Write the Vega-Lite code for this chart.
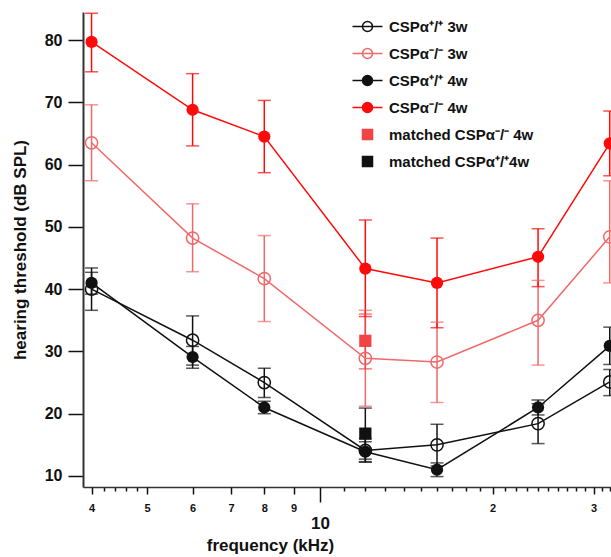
{
  "$schema": "https://vega.github.io/schema/vega-lite/v6.json",
  "width": 528,
  "height": 475,
  "autosize": {"type": "none"},
  "padding": {"left": 83, "top": 12, "right": 0, "bottom": 70},
  "background": "white",
  "config": {
    "view": {"stroke": null},
    "font": "Liberation Sans",
    "axis": {"grid": false, "labelFont": "Liberation Sans", "titleFont": "Liberation Sans", "labelFontWeight": "bold", "titleFontWeight": "bold", "labelColor": "#111", "titleColor": "#111", "tickColor": "#111", "domainColor": "#333"}
  },
  "data": {"values": [
    {"series": "CSPα⁺/⁺ 3w", "freq": 4, "mean": 40.0, "lo": 36.6, "hi": 43.4},
    {"series": "CSPα⁺/⁺ 3w", "freq": 6, "mean": 31.8, "lo": 27.8, "hi": 35.7},
    {"series": "CSPα⁺/⁺ 3w", "freq": 8, "mean": 25.0, "lo": 22.6, "hi": 27.3},
    {"series": "CSPα⁺/⁺ 3w", "freq": 12, "mean": 14.1, "lo": 12.3, "hi": 16.0},
    {"series": "CSPα⁺/⁺ 3w", "freq": 16, "mean": 15.0, "lo": 11.6, "hi": 18.3},
    {"series": "CSPα⁺/⁺ 3w", "freq": 24, "mean": 18.4, "lo": 15.2, "hi": 21.6},
    {"series": "CSPα⁺/⁺ 3w", "freq": 32, "mean": 25.1, "lo": 22.9, "hi": 27.1},
    {"series": "CSPα⁻/⁻ 3w", "freq": 4, "mean": 63.5, "lo": 57.4, "hi": 69.6},
    {"series": "CSPα⁻/⁻ 3w", "freq": 6, "mean": 48.2, "lo": 42.8, "hi": 53.7},
    {"series": "CSPα⁻/⁻ 3w", "freq": 8, "mean": 41.7, "lo": 34.8, "hi": 48.6},
    {"series": "CSPα⁻/⁻ 3w", "freq": 12, "mean": 28.9, "lo": 21.2, "hi": 36.6},
    {"series": "CSPα⁻/⁻ 3w", "freq": 16, "mean": 28.3, "lo": 21.8, "hi": 34.7},
    {"series": "CSPα⁻/⁻ 3w", "freq": 24, "mean": 35.0, "lo": 27.8, "hi": 41.4},
    {"series": "CSPα⁻/⁻ 3w", "freq": 32, "mean": 48.4, "lo": 41.0, "hi": 57.4},
    {"series": "CSPα⁺/⁺ 4w", "freq": 4, "mean": 41.0, "lo": 39.2, "hi": 42.7},
    {"series": "CSPα⁺/⁺ 4w", "freq": 6, "mean": 29.1, "lo": 27.3, "hi": 30.8},
    {"series": "CSPα⁺/⁺ 4w", "freq": 8, "mean": 21.0, "lo": 20.0, "hi": 22.0},
    {"series": "CSPα⁺/⁺ 4w", "freq": 12, "mean": 13.9, "lo": 12.2, "hi": 15.5},
    {"series": "CSPα⁺/⁺ 4w", "freq": 16, "mean": 11.0, "lo": 9.9, "hi": 12.1},
    {"series": "CSPα⁺/⁺ 4w", "freq": 24, "mean": 21.0, "lo": 19.8, "hi": 22.2},
    {"series": "CSPα⁺/⁺ 4w", "freq": 32, "mean": 30.9, "lo": 27.9, "hi": 33.9},
    {"series": "CSPα⁻/⁻ 4w", "freq": 4, "mean": 79.7, "lo": 74.9, "hi": 84.3},
    {"series": "CSPα⁻/⁻ 4w", "freq": 6, "mean": 68.8, "lo": 63.0, "hi": 74.6},
    {"series": "CSPα⁻/⁻ 4w", "freq": 8, "mean": 64.5, "lo": 58.7, "hi": 70.3},
    {"series": "CSPα⁻/⁻ 4w", "freq": 12, "mean": 43.3, "lo": 35.6, "hi": 51.1},
    {"series": "CSPα⁻/⁻ 4w", "freq": 16, "mean": 41.0, "lo": 33.8, "hi": 48.2},
    {"series": "CSPα⁻/⁻ 4w", "freq": 24, "mean": 45.2, "lo": 40.4, "hi": 49.7},
    {"series": "CSPα⁻/⁻ 4w", "freq": 32, "mean": 63.4, "lo": 58.2, "hi": 68.6},
    {"series": "matched CSPα⁻/⁻ 4w", "freq": 12, "mean": 31.7, "lo": 27.2, "hi": 36.0},
    {"series": "matched CSPα⁺/⁺4w", "freq": 12, "mean": 16.8, "lo": 12.7, "hi": 20.9}
  ]},
  "encoding": {
    "color": {
      "field": "series", "type": "nominal",
      "scale": {
        "domain": ["CSPα⁺/⁺ 3w", "CSPα⁻/⁻ 3w", "CSPα⁺/⁺ 4w", "CSPα⁻/⁻ 4w", "matched CSPα⁻/⁻ 4w", "matched CSPα⁺/⁺4w"],
        "range": ["#111111", "#f26868", "#111111", "#ff0a0a", "#f24444", "#111111"]
      },
      "legend": null
    }
  },
  "layer": [
    {
      "mark": {"type": "rule", "strokeWidth": 1.5},
      "encoding": {
        "x": {"field": "freq", "type": "quantitative", "scale": {"type": "log", "domain": [3.865, 32.16], "nice": false},
          "axis": {"orient": "bottom", "values": [4.2, 4.4, 4.6, 4.8, 11, 12, 13, 14, 15, 16, 17, 18, 19, 21, 22, 23, 24, 25, 26, 27, 28, 29, 31, 32], "labels": false, "tickSize": 4, "tickWidth": 1.5, "domain": true, "domainWidth": 1.5, "title": null}},
        "y": {"field": "lo", "type": "quantitative", "scale": {"domain": [8.23, 84.5], "nice": false, "zero": false},
          "axis": {"orient": "left", "values": [10, 20, 30, 40, 50, 60, 70, 80], "tickSize": 15, "tickWidth": 1.5, "domainWidth": 2, "labelFontSize": 16, "labelPadding": 6, "title": "hearing threshold (dB SPL)", "titleFontSize": 17, "titlePadding": 15}},
        "y2": {"field": "hi"}
      }
    },
    {
      "mark": {"type": "tick", "orient": "horizontal", "size": 13, "thickness": 1.5},
      "encoding": {
        "x": {"field": "freq", "type": "quantitative", "scale": {"type": "log", "domain": [3.865, 32.16], "nice": false},
          "axis": {"orient": "bottom", "values": [4, 5, 6, 7, 8, 9, 20, 30], "labelExpr": "datum.value >= 20 ? '' + (datum.value / 10) : '' + datum.value", "labelOverlap": false, "labelFlush": false, "labelBound": false, "labelFontSize": 11, "labelPadding": 8, "tickSize": 7, "tickWidth": 1.5, "domain": false, "title": null}},
        "y": {"field": "lo", "type": "quantitative", "scale": {"domain": [8.23, 84.5], "nice": false, "zero": false}, "axis": null}
      }
    },
    {
      "mark": {"type": "tick", "orient": "horizontal", "size": 13, "thickness": 1.5},
      "encoding": {
        "x": {"field": "freq", "type": "quantitative", "scale": {"type": "log", "domain": [3.865, 32.16], "nice": false},
          "axis": {"orient": "bottom", "values": [10], "labelOverlap": false, "labelFlush": false, "labelBound": false, "labelFontSize": 17, "labelPadding": 13, "tickSize": 15, "tickWidth": 1.5, "domain": false, "title": "frequency (kHz)", "titleFontSize": 17, "titleX": 187, "titleY": 50, "titleBaseline": "top", "titleAlign": "center"}},
        "y": {"field": "hi", "type": "quantitative", "scale": {"domain": [8.23, 84.5], "nice": false, "zero": false}, "axis": null}
      }
    },
    {
      "transform": [{"filter": "indexof(datum.series, 'matched') < 0"}],
      "mark": {"type": "line", "strokeWidth": 1.5},
      "encoding": {
        "x": {"field": "freq", "type": "quantitative", "scale": {"type": "log", "domain": [3.865, 32.16], "nice": false}, "axis": null},
        "y": {"field": "mean", "type": "quantitative", "scale": {"domain": [8.23, 84.5], "nice": false, "zero": false}, "axis": null},
        "color": {
          "field": "series", "type": "nominal",
          "scale": {
            "domain": ["CSPα⁺/⁺ 3w", "CSPα⁻/⁻ 3w", "CSPα⁺/⁺ 4w", "CSPα⁻/⁻ 4w", "matched CSPα⁻/⁻ 4w", "matched CSPα⁺/⁺4w"],
            "range": ["#111111", "#f26868", "#111111", "#ff0a0a", "#f24444", "#111111"]
          },
          "legend": {
            "orient": "none", "legendX": 277, "legendY": 7, "title": null,
            "symbolSize": 100, "symbolStrokeWidth": 1.5,
            "labelFont": "Liberation Sans", "labelFontSize": 15, "labelFontWeight": "bold", "labelColor": "#111",
            "labelOffset": 14, "rowPadding": 10, "labelLimit": 400,
            "encode": {
              "symbols": {
                "update": {
                  "shape": [
                    {"test": "indexof(datum.value, 'matched') >= 0", "value": "M-1,-1H1V1H-1Z"},
                    {"value": "M-3,0H3M1,0A1,1,0,1,1,-1,0A1,1,0,1,1,1,0Z"}
                  ],
                  "fill": [
                    {"test": "indexof(datum.value, '3w') >= 0", "value": "transparent"},
                    {"signal": "scale('color', datum.value)"}
                  ],
                  "stroke": {"signal": "scale('color', datum.value)"},
                  "strokeWidth": {"value": 1.5},
                  "opacity": {"value": 1}
                }
              }
            }
          }
        }
      }
    },
    {
      "transform": [{"filter": "indexof(datum.series, '3w') >= 0"}],
      "mark": {"type": "point", "shape": "circle", "filled": false, "size": 150, "strokeWidth": 1.5, "opacity": 1},
      "encoding": {
        "x": {"field": "freq", "type": "quantitative", "scale": {"type": "log", "domain": [3.865, 32.16], "nice": false}, "axis": null},
        "y": {"field": "mean", "type": "quantitative", "scale": {"domain": [8.23, 84.5], "nice": false, "zero": false}, "axis": null}
      }
    },
    {
      "transform": [{"filter": "indexof(datum.series, '4w') >= 0 && indexof(datum.series, 'matched') < 0"}],
      "mark": {"type": "circle", "size": 150, "opacity": 1},
      "encoding": {
        "x": {"field": "freq", "type": "quantitative", "scale": {"type": "log", "domain": [3.865, 32.16], "nice": false}, "axis": null},
        "y": {"field": "mean", "type": "quantitative", "scale": {"domain": [8.23, 84.5], "nice": false, "zero": false}, "axis": null}
      }
    },
    {
      "transform": [{"filter": "indexof(datum.series, 'matched') >= 0"}],
      "mark": {"type": "square", "size": 150, "opacity": 1},
      "encoding": {
        "x": {"field": "freq", "type": "quantitative", "scale": {"type": "log", "domain": [3.865, 32.16], "nice": false}, "axis": null},
        "y": {"field": "mean", "type": "quantitative", "scale": {"domain": [8.23, 84.5], "nice": false, "zero": false}, "axis": null}
      }
    }
  ],
  "resolve": {"axis": {"x": "independent", "y": "independent"}, "legend": {"color": "independent"}}
}
